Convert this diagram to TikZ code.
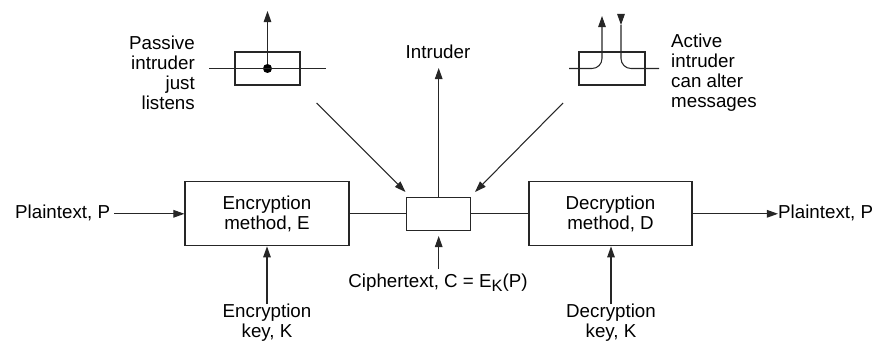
\documentclass[tikz,border=0pt]{standalone}
\usepackage{fontspec}
\setmainfont{Liberation Sans}
\usetikzlibrary{arrows.meta}
\tikzset{
	sig/.style={line width=0.9pt, color=black!85},
	sigarrow/.style={sig, -{Triangle[length=9.5pt,width=6.5pt]}},
	blockbox/.style={draw=black!85, line width=0.9pt, inner sep=0pt, align=center, font=\fontsize{16}{17.1}\selectfont},
	caption/.style={inner sep=0pt, align=center, font=\fontsize{16}{17.1}\selectfont},
}

\begin{document}
\begin{tikzpicture}[x=0.03cm, y=-0.03cm]
			%%%%% START %%%%%
			\useasboundingbox (0, 0) rectangle (873, 342);
			
			% main row
			\node[blockbox, minimum width=4.92cm, minimum height=1.92cm] (enc) at (267, 213.8) {Encryption\\method, E};
			\node[blockbox, minimum width=4.89cm, minimum height=1.92cm] (dec) at (610.5, 213.8) {Decryption\\method, D};
			\node[blockbox, minimum width=1.935cm, minimum height=0.99cm] (mid) at (438.7, 213.8) {};
			
			\node[caption, anchor=west] (plainin) at (15, 213) {Plaintext, P};
			\node[caption, anchor=west] (plainout) at (778, 213) {Plaintext, P};
			\coordinate (plainstart) at (114, 213.8);
			\coordinate (plainend) at (778, 213.8);
			\draw[sigarrow] (plainstart) -- (plainstart -| enc.west);
			\draw[sigarrow] (dec.east |- plainend) -- (plainend);
			
			\draw[sig] (enc) -- (mid);
			\draw[sig] (mid) -- (dec);
			
			% keys
			\node[caption] (enckey) at (267, 323) {Encryption\\key, K};
			\node[caption] (deckey) at (611, 323) {Decryption\\key, K};
			\coordinate (enckeystart) at (267, 304);
			\coordinate (deckeystart) at (611, 304);
			\draw[sigarrow] (enckeystart) -- (enckeystart |- enc.south);
			\draw[sigarrow] (deckeystart) -- (deckeystart |- dec.south);
			
			\node[caption] (cipher) at (438, 283) {Ciphertext, C = E\raisebox{-0.35ex}{\fontsize{14}{14}\selectfont K}(P)};
			\coordinate (cipherstart) at (438.7, 269);
			\coordinate (ciphertip) at (438.7, 236);
			\draw[sigarrow] (cipherstart) -- (ciphertip);
			
			\node[caption] (intruder) at (438, 52) {Intruder};
			\coordinate (intrudertip) at (438.7, 68);
			\draw[sigarrow] (mid.north) -- (intrudertip);
			
			% diagonal arrows
			\coordinate (passstart) at (316.5, 103);
			\coordinate (passtip) at (405.5, 192);
			\coordinate (actstart) at (563, 103);
			\coordinate (acttip) at (475, 192);
			\draw[sigarrow] (passstart) -- (passtip);
			\draw[sigarrow] (actstart) -- (acttip);
			
			% passive intruder
			\node[blockbox, minimum width=1.95cm, minimum height=0.99cm] (passbox) at (267.5, 68.5) {};
			\node[circle, fill=black, inner sep=0pt, minimum size=0.27cm] (passdot) at (267.5, 68.5) {};
			\coordinate (passleft) at (209, 68.5);
			\coordinate (passright) at (326, 68.5);
			\coordinate (passtop) at (267.5, 11);
			\draw[sig] (passleft) -- (passright);
			\draw[sigarrow] (passdot) -- (passtop);
			\node[caption, align=right, anchor=east] (passtext) at (195, 73) {Passive\\intruder\\just\\listens};
			
			% active intruder
			\node[blockbox, minimum width=1.98cm, minimum height=0.99cm] (actbox) at (612, 68.5) {};
			\coordinate (actleft) at (569, 68.5);
			\coordinate (actright) at (659, 68.5);
			\coordinate (actup) at (602, 16);
			\coordinate (actdown) at (621, 25);
			\coordinate (actdownstart) at (621, 15.5);
			\draw[sigarrow, rounded corners=0.3cm] (actleft) -| (actup);
			\draw[sig, rounded corners=0.3cm] (actright) -| (actdown);
			\draw[sigarrow] (actdownstart) -- (actdown);
			\node[caption, align=left, anchor=west] (acttext) at (671, 73) {Active\\intruder\\can alter\\messages};
			
			%%%%% END %%%%%
		\end{tikzpicture}
\end{document}
